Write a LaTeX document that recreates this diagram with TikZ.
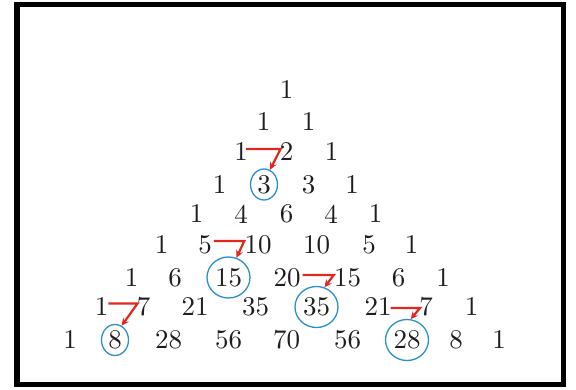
\documentclass[tikz,border=0pt]{standalone}
\usepackage{fontspec}
\newfontfamily\numfont{lmroman10-regular}[Extension=.otf]
\usetikzlibrary{shapes.geometric,arrows.meta}
\definecolor{numgray}{RGB}{30,30,30}
\definecolor{circblue}{RGB}{40,145,205}
\definecolor{arrred}{RGB}{225,40,30}
\tikzset{
  num/.style={inner sep=0pt, text=numgray, font=\numfont\fontsize{27}{30}\selectfont},
  circone/.style={num, ellipse, draw=circblue, line width=1.3pt, minimum width=27pt, minimum height=31pt},
  circtwo/.style={num, ellipse, draw=circblue, line width=1.3pt, minimum width=43pt, minimum height=41pt},
  redarr/.style={draw=arrred, line width=2.2pt, line join=miter, -{Stealth[length=7.5pt,width=7pt]}},
  frame/.style={line width=5.5pt, draw=black}
}
\begin{document}
\begin{tikzpicture}[x=1pt,y=-1pt]
\useasboundingbox (0,0) rectangle (576,389);
\fill[white] (0,0) rectangle (576,389);
\draw[frame] (17,4.5) rectangle (563.5,384.5);
% row 0
\node[num] (r0c0) at (286.5,90) {1};
% row 1
\node[num] (r1c0) at (263.5,121.5) {1};
\node[num] (r1c1) at (308.5,121.5) {1};
% row 2
\node[num] (r2c0) at (241,152) {1};
\node[num] (r2c1) at (286.5,152) {2};
\node[num] (r2c2) at (331.5,152) {1};
% row 3
\node[num] (r3c0) at (219.5,184.5) {1};
\node[circone] (r3c1) at (264,184.5) {3};
\node[num] (r3c2) at (308.5,184.5) {3};
\node[num] (r3c3) at (352,184.5) {1};
% row 4
\node[num] (r4c0) at (196.5,214) {1};
\node[num] (r4c1) at (241,214) {4};
\node[num] (r4c2) at (286.5,214) {6};
\node[num] (r4c3) at (331,214) {4};
\node[num] (r4c4) at (375.5,214) {1};
% row 5
\node[num] (r5c0) at (161.5,245) {1};
\node[num] (r5c1) at (205,245) {5};
\node[num] (r5c2) at (258,245) {10};
\node[num] (r5c3) at (316.5,245) {10};
\node[num] (r5c4) at (369,245) {5};
\node[num] (r5c5) at (411.5,245) {1};
% row 6
\node[num] (r6c0) at (131.5,277.5) {1};
\node[num] (r6c1) at (175,277.5) {6};
\node[circtwo] (r6c2) at (228.5,277.5) {15};
\node[num] (r6c3) at (287,277.5) {20};
\node[num] (r6c4) at (347.5,277.5) {15};
\node[num] (r6c5) at (398.5,277.5) {6};
\node[num] (r6c6) at (443,277.5) {1};
% row 7
\node[num] (r7c0) at (101.5,307) {1};
\node[num] (r7c1) at (143.5,307) {7};
\node[num] (r7c2) at (195,307) {21};
\node[num] (r7c3) at (255.5,307) {35};
\node[circtwo] (r7c4) at (316.5,307) {35};
\node[num] (r7c5) at (378,307) {21};
\node[num] (r7c6) at (426,307) {7};
\node[num] (r7c7) at (471.5,307) {1};
% row 8
\node[num] (r8c0) at (70,340) {1};
\node[circone] (r8c1) at (115,340) {8};
\node[num] (r8c2) at (168.5,340) {28};
\node[num] (r8c3) at (228.5,340) {56};
\node[num] (r8c4) at (286.5,340) {70};
\node[num] (r8c5) at (347.5,340) {56};
\node[circtwo] (r8c6) at (407,340) {28};
\node[num] (r8c7) at (456,340) {8};
\node[num] (r8c8) at (499,340) {1};
% red arrows
\draw[redarr] ([xshift=-2pt,yshift=3pt]r2c0.east) -- ([xshift=1pt,yshift=3pt]r2c1.west) -- (r3c1.68);
\draw[redarr] ([xshift=2pt,yshift=4pt]r5c1.east) -- ([yshift=4pt]r5c2.west) -- (r6c2.68);
\draw[redarr] ([xshift=2pt,yshift=2.5pt]r6c3.east) -- ([yshift=2.5pt]r6c4.west) -- (r7c4.68);
\draw[redarr] ([yshift=3.5pt]r7c0.east) -- ([xshift=1pt,yshift=3.5pt]r7c1.west) -- (r8c1.65);
\draw[redarr] ([xshift=-1pt,yshift=-1pt]r7c5.east) -- ([xshift=1pt,yshift=-1pt]r7c6.west) -- (r8c6.80);
\end{tikzpicture}
\end{document}
